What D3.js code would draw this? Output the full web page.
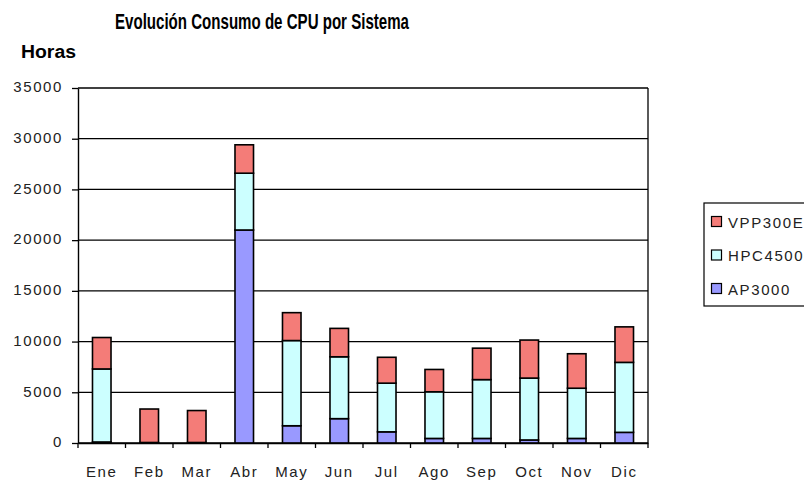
<!DOCTYPE html>
<html>
<head>
<meta charset="utf-8">
<script src="https://cdn.jsdelivr.net/npm/d3@7"></script>
<style>
  body { margin: 0; background: #fff; }
  text { font-family: "Liberation Sans", Arial, sans-serif; }
</style>
</head>
<body>
<svg></svg>
<script>
const size = {w: 804, h: 481};
const margin = {t: 88, r: 156, b: 38, l: 78};

const months = ['Ene', 'Feb', 'Mar', 'Abr', 'May', 'Jun', 'Jul', 'Ago', 'Sep', 'Oct', 'Nov', 'Dic'];
const series = ['AP3000', 'HPC4500', 'VPP300E'];
const ap3000 = [100, 0, 0, 21000, 1700, 2400, 1100, 450, 450, 300, 450, 1050];
const hpc4500 = [7200, 50, 50, 5600, 8400, 6100, 4800, 4600, 5800, 6100, 4950, 6900];
const vpp300e = [3100, 3300, 3150, 2800, 2750, 2800, 2550, 2200, 3100, 3750, 3400, 3500];
const yTicks = [0, 5000, 10000, 15000, 20000, 25000, 30000, 35000];

const colors = {AP3000: '#9999ff', HPC4500: '#ccffff', VPP300E: '#f47c78'};

const svg = d3.select('svg')
    .attr('width', size.w)
    .attr('height', size.h);

// build rows for the stack
let rows = months.map((m, i) => ({
    month: m,
    AP3000: ap3000[i],
    HPC4500: hpc4500[i],
    VPP300E: vpp300e[i]
}));
let stacked = d3.stack().keys(series)(rows);

let pw = size.w - margin.l - margin.r,
    ph = size.h - margin.t - margin.b;

let x = d3.scaleBand().domain(months).range([0, pw]).paddingInner(0.61).paddingOuter(0.305);
let xTick = d3.scaleBand().domain(months).range([0, pw]);
let y = d3.scaleLinear().domain([0, 35000]).range([ph, 0]);

let g = svg.append('g')
    .attr('transform', 'translate(' + margin.l + ',' + margin.t + ')');

// gridlines
g.selectAll('line.grid')
    .data(yTicks)
    .enter()
    .append('line')
    .attr('x1', 0).attr('x2', pw)
    .attr('y1', d => y(d)).attr('y2', d => y(d))
    .attr('stroke', '#000')
    .attr('stroke-width', 1.3);

// right border
g.append('line')
    .attr('x1', pw).attr('x2', pw)
    .attr('y1', 0).attr('y2', ph)
    .attr('stroke', '#000').attr('stroke-width', 1.3);

// bars
g.selectAll('g.layer')
    .data(stacked)
    .enter()
    .append('g')
    .attr('fill', d => colors[d.key])
    .selectAll('rect')
    .data(d => d)
    .enter()
    .append('rect')
    .attr('x', d => x(d.data.month))
    .attr('y', d => y(d[1]))
    .attr('width', x.bandwidth())
    .attr('height', d => Math.max(0, y(d[0]) - y(d[1])))
    .attr('stroke', '#000')
    .attr('stroke-width', 1.6);

const tickFont = '"Liberation Sans", Arial, sans-serif';

// y axis
let yAxis = g.append('g')
    .call(d3.axisLeft(y).tickValues(yTicks).tickSize(6).tickSizeOuter(0).tickFormat(d3.format('d')));
yAxis.selectAll('text')
    .attr('font-size', 15)
    .attr('fill', '#222')
    .attr('x', -15)
    .attr('dy', '0.25em')
    .style('letter-spacing', '1.6px')
    .style('font-family', tickFont);
yAxis.select('.domain').attr('stroke-width', 1.4);
yAxis.selectAll('.tick line').attr('stroke-width', 1.3);

// x axis
let xAxis = g.append('g')
    .attr('transform', 'translate(0,' + ph + ')')
    .call(d3.axisBottom(xTick).tickSize(0).tickSizeOuter(0));
xAxis.selectAll('text')
    .attr('font-size', 15)
    .attr('fill', '#222')
    .attr('y', 34)
    .attr('dy', 0)
    .style('letter-spacing', '1.6px')
    .style('font-family', tickFont);
xAxis.select('.domain').attr('stroke-width', 1.4);
// tick marks between categories
xAxis.selectAll('line.sep')
    .data(months)
    .enter()
    .append('line')
    .attr('x1', d => xTick(d)).attr('x2', d => xTick(d))
    .attr('y1', 0).attr('y2', 5)
    .attr('stroke', '#000').attr('stroke-width', 1.3);
xAxis.append('line')
    .attr('x1', pw).attr('x2', pw)
    .attr('y1', 0).attr('y2', 5)
    .attr('stroke', '#000').attr('stroke-width', 1.3);

// title
svg.append('text')
    .attr('x', 115).attr('y', 29)
    .attr('font-size', 22)
    .attr('font-weight', 'bold')
    .attr('textLength', 294)
    .attr('lengthAdjust', 'spacingAndGlyphs')
    .text('Evolución Consumo de CPU por Sistema');

svg.append('text')
    .attr('x', 21).attr('y', 58)
    .attr('font-size', 18)
    .attr('font-weight', 'bold')
    .attr('textLength', 55)
    .attr('lengthAdjust', 'spacingAndGlyphs')
    .text('Horas');

// legend
let legend = svg.append('g').attr('transform', 'translate(704,203)');
legend.append('rect')
    .attr('x', 0).attr('y', 0)
    .attr('width', 110).attr('height', 103)
    .attr('fill', '#fff')
    .attr('stroke', '#000')
    .attr('stroke-width', 1.2);
let legItems = series.slice().reverse();
let li = legend.selectAll('g.item')
    .data(legItems)
    .enter()
    .append('g')
    .attr('transform', (d, i) => 'translate(7,' + (18.5 + i * 33.5) + ')');
li.append('rect')
    .attr('x', 0.5).attr('y', -5)
    .attr('width', 10).attr('height', 10)
    .attr('fill', d => colors[d])
    .attr('stroke', '#000')
    .attr('stroke-width', 1.2);
li.append('text')
    .attr('x', 17).attr('y', 6)
    .attr('font-size', 15)
    .attr('fill', '#222')
    .style('letter-spacing', '1.6px')
    .text(d => d);
</script>
</body>
</html>
